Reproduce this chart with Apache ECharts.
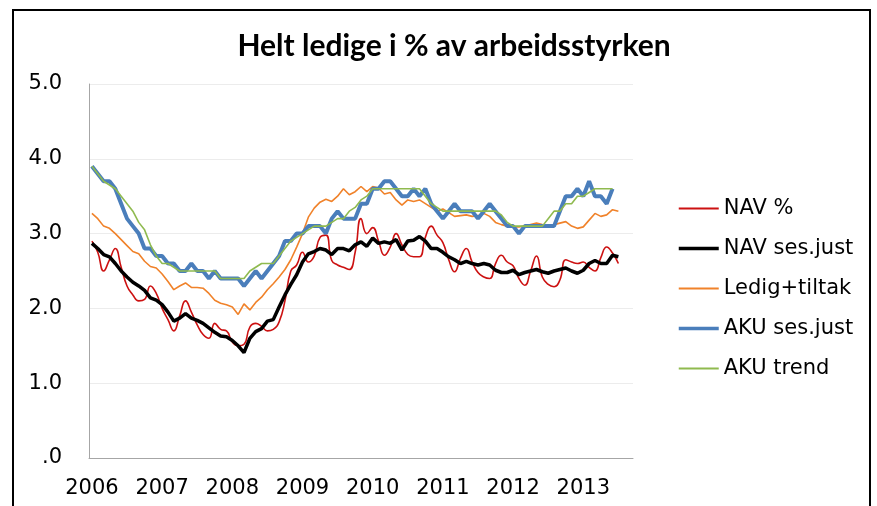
<!DOCTYPE html>
<html>
<head>
<meta charset="utf-8">
<script src="https://cdn.jsdelivr.net/npm/echarts@6/dist/echarts.min.js"></script>
<style>
  body { margin: 0; background: #fff; }
  #d1 { width: 877px; height: 506px; }
</style>
</head>
<body>
<div id="d1"></div>
<script>
var myChart1 = echarts.init(document.getElementById('d1'));

// monthly, jan 2006 onward
var years = ['2006', '2007', '2008', '2009', '2010', '2011', '2012', '2013'];
var nMonths = 93;

var navPct = [2.9, 2.75, 2.5, 2.65, 2.8, 2.55, 2.3, 2.18, 2.1, 2.12, 2.3, 2.2,
    2.0, 1.85, 1.7, 1.9, 2.1, 1.95, 1.78, 1.65, 1.6, 1.8, 1.72, 1.7,
    1.55, 1.5, 1.52, 1.75, 1.8, 1.76, 1.7, 1.72, 1.82, 2.1, 2.5, 2.58,
    2.75, 2.62, 2.7, 2.95, 2.98, 2.64, 2.58, 2.55, 2.52, 2.75, 3.2, 3.0,
    3.08, 2.9, 2.71, 2.82, 3.0, 2.85, 2.72, 2.69, 2.69, 2.95, 3.1, 2.98,
    2.88, 2.65, 2.49, 2.67, 2.8, 2.62, 2.48, 2.42, 2.4, 2.6, 2.71, 2.62,
    2.57, 2.4, 2.31, 2.5, 2.7, 2.42, 2.32, 2.29, 2.38, 2.65, 2.62, 2.6,
    2.62, 2.55, 2.5, 2.68, 2.82, 2.74, 2.6];

var navSes = [2.87, 2.8, 2.72, 2.69, 2.6, 2.5, 2.42, 2.35, 2.3, 2.24, 2.14, 2.11,
    2.05, 1.95, 1.83, 1.87, 1.93, 1.87, 1.84, 1.8, 1.74, 1.68, 1.63, 1.62,
    1.57, 1.5, 1.41, 1.6, 1.69, 1.73, 1.83, 1.85, 2.02, 2.18, 2.32, 2.45,
    2.62, 2.73, 2.76, 2.8, 2.78, 2.72, 2.8, 2.8, 2.77, 2.85, 2.89, 2.83,
    2.94, 2.87, 2.89, 2.87, 2.92, 2.78, 2.9, 2.91, 2.96, 2.9, 2.8, 2.8,
    2.75, 2.69, 2.65, 2.6, 2.63, 2.6, 2.58, 2.6, 2.58, 2.51, 2.48, 2.48,
    2.51, 2.45, 2.48, 2.5, 2.52, 2.49, 2.47, 2.5, 2.52, 2.54, 2.5, 2.47,
    2.51, 2.6, 2.64, 2.6, 2.6, 2.71, 2.69];

var ledigTiltak = [3.27, 3.2, 3.1, 3.07, 3.0, 2.92, 2.84, 2.76, 2.73, 2.63, 2.56, 2.54,
    2.46, 2.36, 2.25, 2.3, 2.34, 2.28, 2.28, 2.27, 2.2, 2.11, 2.07, 2.05,
    2.02, 1.92, 2.06, 1.98, 2.08, 2.15, 2.25, 2.33, 2.42, 2.52, 2.65, 2.82,
    3.0, 3.22, 3.34, 3.42, 3.46, 3.43, 3.5, 3.6, 3.52, 3.56, 3.63, 3.56,
    3.63, 3.61, 3.53, 3.55, 3.45, 3.38, 3.45, 3.43, 3.45, 3.4, 3.35, 3.3,
    3.33, 3.28, 3.23, 3.24, 3.25, 3.23, 3.24, 3.27, 3.23, 3.15, 3.12, 3.1,
    3.09, 3.09, 3.1, 3.12, 3.14, 3.12, 3.11, 3.12, 3.14, 3.16, 3.1, 3.07,
    3.09, 3.18, 3.27, 3.23, 3.25, 3.32, 3.3];

var akuSes = [3.9, 3.8, 3.7, 3.7, 3.6, 3.4, 3.2, 3.1, 3.0, 2.8, 2.8, 2.7,
    2.7, 2.6, 2.6, 2.5, 2.5, 2.6, 2.5, 2.5, 2.4, 2.5, 2.4, 2.4,
    2.4, 2.4, 2.3, 2.4, 2.5, 2.4, 2.5, 2.6, 2.7, 2.9, 2.9, 3.0,
    3.0, 3.1, 3.1, 3.1, 3.0, 3.2, 3.3, 3.2, 3.2, 3.2, 3.4, 3.4,
    3.6, 3.6, 3.7, 3.7, 3.6, 3.5, 3.5, 3.6, 3.5, 3.6, 3.4, 3.3,
    3.2, 3.3, 3.4, 3.3, 3.3, 3.3, 3.2, 3.3, 3.4, 3.3, 3.2, 3.1,
    3.1, 3.0, 3.1, 3.1, 3.1, 3.1, 3.1, 3.1, 3.3, 3.5, 3.5, 3.6,
    3.5, 3.7, 3.5, 3.5, 3.4, 3.6];

var akuTrend = [3.9, 3.8, 3.7, 3.65, 3.6, 3.5, 3.4, 3.3, 3.15, 3.05, 2.85, 2.7,
    2.6, 2.6, 2.55, 2.5, 2.5, 2.5, 2.5, 2.5, 2.5, 2.5, 2.4, 2.4,
    2.4, 2.4, 2.4, 2.5, 2.55, 2.6, 2.6, 2.6, 2.7, 2.8, 2.9, 2.95,
    3.0, 3.05, 3.1, 3.1, 3.1, 3.15, 3.2, 3.2, 3.3, 3.35, 3.45, 3.5,
    3.6, 3.6, 3.6, 3.6, 3.6, 3.6, 3.6, 3.6, 3.6, 3.5, 3.4, 3.35,
    3.3, 3.3, 3.3, 3.3, 3.3, 3.3, 3.3, 3.3, 3.3, 3.3, 3.25, 3.15,
    3.1, 3.1, 3.1, 3.1, 3.1, 3.1, 3.2, 3.3, 3.3, 3.4, 3.4, 3.5,
    3.5, 3.55, 3.6, 3.6, 3.6, 3.6];

var months = [];
for (i = 0; i < nMonths; i++) {
    months[i] = years[Math.floor(i / 12)] || '2013';
}

var font = 'DejaVu Sans';

var option1 = {
    animation: false,
    title: {
        text: 'Helt ledige i % av arbeidsstyrken',
        left: 449,
        textAlign: 'center',
        top: 26,
        textStyle: {
            fontFamily: 'Lato',
            fontWeight: 'bold',
            fontSize: 30,
            color: '#000'
        }
    },
    legend: {
        orient: 'vertical',
        left: 677,
        top: 198,
        padding: 0,
        itemWidth: 40,
        itemHeight: 1,
        itemGap: 19,
        textStyle: {
            fontFamily: font,
            fontSize: 21,
            color: '#000'
        },
        data: [
            { name: 'NAV %' },
            { name: 'NAV ses.just', lineStyle: { width: 3.5 } },
            { name: 'Ledig+tiltak' },
            { name: 'AKU ses.just', lineStyle: { width: 3.5 } },
            { name: 'AKU trend' }
        ]
    },
    grid: {
        left: 89,
        top: 84,
        width: 544,
        height: 374
    },
    xAxis: {
        type: 'category',
        data: months,
        boundaryGap: true,
        axisLine: { lineStyle: { color: '#a6a6a6', width: 1 } },
        axisTick: { show: false },
        axisLabel: {
            interval: 11,
            margin: 20,
            fontFamily: font,
            fontSize: 21,
            color: '#000'
        }
    },
    yAxis: {
        type: 'value',
        min: 0,
        max: 5,
        interval: 1,
        axisLine: { show: true, lineStyle: { color: '#a6a6a6', width: 1 } },
        axisTick: { show: false },
        splitLine: { lineStyle: { color: '#ececec' } },
        axisLabel: {
            margin: 27,
            fontFamily: font,
            fontSize: 21,
            color: '#000',
            formatter: function (v) {
                return v === 0 ? '.0' : v.toFixed(1);
            }
        }
    },
    series: [{
            name: 'NAV %',
            type: 'line',
            data: navPct,
            smooth: 0.5,
            symbol: 'none',
            lineStyle: { color: '#cc1111', width: 1.6 },
            itemStyle: { color: '#cc1111' }
        },
        {
            name: 'NAV ses.just',
            type: 'line',
            data: navSes,
            symbol: 'none',
            lineStyle: { color: '#000', width: 3.5 },
            itemStyle: { color: '#000' }
        },
        {
            name: 'Ledig+tiltak',
            type: 'line',
            data: ledigTiltak,
            symbol: 'none',
            lineStyle: { color: '#f0822a', width: 1.6 },
            itemStyle: { color: '#f0822a' }
        },
        {
            name: 'AKU ses.just',
            type: 'line',
            data: akuSes,
            symbol: 'none',
            lineStyle: { color: '#4a7ebb', width: 4 },
            itemStyle: { color: '#4a7ebb' }
        },
        {
            name: 'AKU trend',
            type: 'line',
            data: akuTrend,
            symbol: 'none',
            lineStyle: { color: '#8fba4f', width: 1.6 },
            itemStyle: { color: '#8fba4f' }
        }
    ],
    graphic: [{
        type: 'rect',
        shape: { x: 13, y: 10, width: 857, height: 520 },
        style: { fill: 'none', stroke: '#000', lineWidth: 2 },
        silent: true
    }]
};

myChart1.setOption(option1);
</script>
</body>
</html>
